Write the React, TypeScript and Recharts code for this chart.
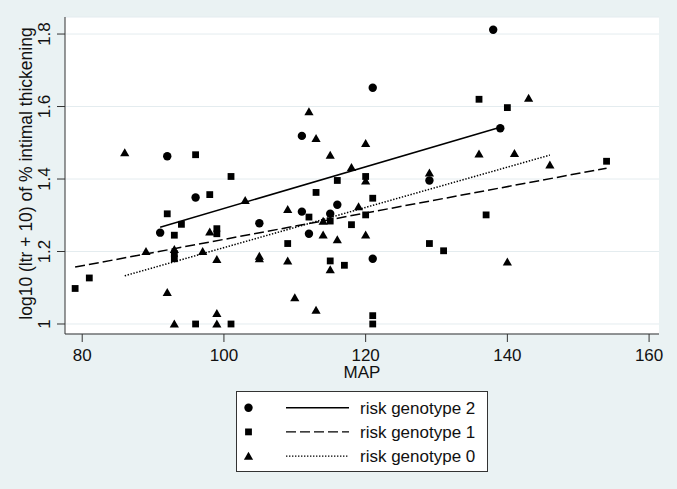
import React from "react";
import {
  ComposedChart,
  Scatter,
  Line,
  XAxis,
  YAxis,
  CartesianGrid,
  Legend,
} from "recharts";

const xTicks = [80, 100, 120, 140, 160];
const yTicks = [1, 1.2, 1.4, 1.6, 1.8];

// risk genotype 2 (circles)
const genotype2 = [
  { x: 91, y: 1.252 },
  { x: 92, y: 1.463 },
  { x: 96, y: 1.349 },
  { x: 105, y: 1.278 },
  { x: 111, y: 1.519 },
  { x: 111, y: 1.31 },
  { x: 112, y: 1.249 },
  { x: 115, y: 1.304 },
  { x: 116, y: 1.329 },
  { x: 121, y: 1.652 },
  { x: 121, y: 1.18 },
  { x: 129, y: 1.396 },
  { x: 138, y: 1.812 },
  { x: 139, y: 1.54 },
];

// risk genotype 1 (squares)
const genotype1 = [
  { x: 79, y: 1.098 },
  { x: 81, y: 1.127 },
  { x: 92, y: 1.304 },
  { x: 93, y: 1.245 },
  { x: 93, y: 1.194 },
  { x: 93, y: 1.18 },
  { x: 94, y: 1.275 },
  { x: 96, y: 1.467 },
  { x: 96, y: 1.0 },
  { x: 98, y: 1.357 },
  { x: 99, y: 1.263 },
  { x: 99, y: 1.249 },
  { x: 101, y: 1.407 },
  { x: 101, y: 1.0 },
  { x: 109, y: 1.222 },
  { x: 112, y: 1.295 },
  { x: 113, y: 1.363 },
  { x: 115, y: 1.284 },
  { x: 115, y: 1.174 },
  { x: 116, y: 1.396 },
  { x: 117, y: 1.162 },
  { x: 118, y: 1.274 },
  { x: 120, y: 1.407 },
  { x: 120, y: 1.301 },
  { x: 121, y: 1.347 },
  { x: 121, y: 1.023 },
  { x: 121, y: 1.0 },
  { x: 129, y: 1.222 },
  { x: 131, y: 1.202 },
  { x: 136, y: 1.62 },
  { x: 137, y: 1.301 },
  { x: 140, y: 1.597 },
  { x: 154, y: 1.449 },
];

// risk genotype 0 (triangles)
const genotype0 = [
  { x: 86, y: 1.473 },
  { x: 89, y: 1.2 },
  { x: 92, y: 1.087 },
  { x: 93, y: 1.206 },
  { x: 93, y: 1.0 },
  { x: 97, y: 1.2 },
  { x: 98, y: 1.254 },
  { x: 99, y: 1.178 },
  { x: 99, y: 1.029 },
  { x: 99, y: 1.0 },
  { x: 103, y: 1.341 },
  { x: 105, y: 1.187 },
  { x: 105, y: 1.18 },
  { x: 109, y: 1.316 },
  { x: 109, y: 1.174 },
  { x: 110, y: 1.073 },
  { x: 112, y: 1.586 },
  { x: 113, y: 1.512 },
  { x: 113, y: 1.038 },
  { x: 114, y: 1.284 },
  { x: 114, y: 1.246 },
  { x: 115, y: 1.466 },
  { x: 115, y: 1.15 },
  { x: 116, y: 1.233 },
  { x: 118, y: 1.432 },
  { x: 119, y: 1.324 },
  { x: 120, y: 1.498 },
  { x: 120, y: 1.395 },
  { x: 120, y: 1.246 },
  { x: 129, y: 1.417 },
  { x: 136, y: 1.469 },
  { x: 140, y: 1.171 },
  { x: 141, y: 1.471 },
  { x: 143, y: 1.623 },
  { x: 146, y: 1.439 },
];

// fitted lines (endpoints)
const fit2 = [
  { x: 91, y: 1.267 },
  { x: 139, y: 1.543 },
];
const fit1 = [
  { x: 79, y: 1.157 },
  { x: 154, y: 1.43 },
];
const fit0 = [
  { x: 86, y: 1.133 },
  { x: 146, y: 1.466 },
];

const legendItems = [
  { label: "risk genotype 2", marker: "circle", dash: "" },
  { label: "risk genotype 1", marker: "square", dash: "10 4" },
  { label: "risk genotype 0", marker: "triangle", dash: "1.4 1.6" },
];

const FONT = "'Liberation Sans', Arial, sans-serif";
const INK = "#111";
const AXIS = "#333";

function Marker({ kind, cx, cy }: { kind: string; cx: number; cy: number }) {
  if (kind === "circle") return <circle cx={cx} cy={cy} r={4.2} fill="#000" />;
  if (kind === "square")
    return <rect x={cx - 3.4} y={cy - 3.4} width={6.8} height={6.8} fill="#000" />;
  return (
    <polygon
      points={`${cx - 4.6},${cy + 3.6} ${cx + 4.6},${cy + 3.6} ${cx},${cy - 4.4}`}
      fill="#000"
    />
  );
}

const shapeOf = (kind: string) => (props: any) =>
  <Marker kind={kind} cx={props.cx} cy={props.cy} />;

function YTick(props: any) {
  const { x, y, payload } = props;
  const tx = x - 5;
  return (
    <text
      x={tx}
      y={y}
      transform={`rotate(-90 ${tx} ${y})`}
      textAnchor="middle"
      fontSize={17}
      fontFamily={FONT}
      fill={INK}
    >
      {payload.value}
    </text>
  );
}

function LegendBox() {
  return (
    <svg width={252} height={81}>
      <rect x={0.5} y={0.5} width={251} height={80} fill="#fff" stroke="#333" />
      {legendItems.map((it, i) => {
        const cy = 16.7 + i * 24.2;
        return (
          <g key={it.label}>
            <Marker kind={it.marker} cx={12.5} cy={cy} />
            <line
              x1={50}
              x2={113}
              y1={cy}
              y2={cy}
              stroke="#000"
              strokeWidth={1.4}
              strokeDasharray={it.dash || undefined}
            />
            <text x={124} y={cy + 6.3} fontSize={17} fontFamily={FONT} fill={INK}>
              {it.label}
            </text>
          </g>
        );
      })}
    </svg>
  );
}

export default function App() {
  return (
    <div
      style={{
        position: "absolute",
        left: 0,
        top: 0,
        width: 677,
        height: 489,
        background: "#eaf2f3",
        fontFamily: FONT,
      }}
    >
      <ComposedChart
        width={677}
        height={489}
        margin={{ top: 17, right: 18, bottom: 111, left: 15 }}
      >
        <CartesianGrid vertical={false} stroke="#e4ecef" fill="#ffffff" />
        <XAxis
          dataKey="x"
          type="number"
          domain={[77.57, 161.4]}
          ticks={xTicks}
          allowDataOverflow
          height={44}
          tickSize={8}
          tickMargin={7}
          stroke={AXIS}
          tick={{ fontSize: 17, fontFamily: FONT, fill: INK }}
          label={{
            value: "MAP",
            position: "insideBottom",
            offset: 0,
            fontSize: 17,
            fontFamily: FONT,
            fill: INK,
          }}
        />
        <YAxis
          dataKey="y"
          type="number"
          domain={[0.9724, 1.847]}
          ticks={yTicks}
          allowDataOverflow
          width={50}
          tickSize={8}
          stroke={AXIS}
          tick={<YTick />}
          label={{
            value: "log10 (ltr + 10) of % intimal thickening",
            angle: -90,
            position: "center",
            dx: -14,
            dy: -2,
            fontSize: 17.5,
            fontFamily: FONT,
            fill: INK,
          }}
        />
        <Scatter data={genotype2} shape={shapeOf("circle")} isAnimationActive={false} />
        <Scatter data={genotype1} shape={shapeOf("square")} isAnimationActive={false} />
        <Scatter data={genotype0} shape={shapeOf("triangle")} isAnimationActive={false} />
        <Line
          data={fit2}
          dataKey="y"
          type="linear"
          stroke="#000"
          strokeWidth={1.5}
          dot={false}
          activeDot={false}
          isAnimationActive={false}
        />
        <Line
          data={fit1}
          dataKey="y"
          type="linear"
          stroke="#000"
          strokeWidth={1.5}
          strokeDasharray="10 4"
          dot={false}
          activeDot={false}
          isAnimationActive={false}
        />
        <Line
          data={fit0}
          dataKey="y"
          type="linear"
          stroke="#000"
          strokeWidth={1.5}
          strokeDasharray="1.4 1.6"
          dot={false}
          activeDot={false}
          isAnimationActive={false}
        />
        <Legend
          layout="vertical"
          align="center"
          verticalAlign="middle"
          content={() => <LegendBox />}
          wrapperStyle={{ left: 236, top: 391, width: 252, height: 81 }}
        />
      </ComposedChart>
    </div>
  );
}
